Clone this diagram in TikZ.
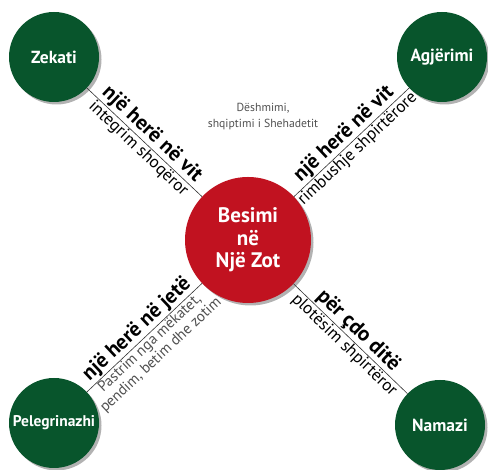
\documentclass[tikz,border=0pt]{standalone}
\usepackage{fontspec}
\setmainfont{PT Sans}
\usetikzlibrary{shadows, positioning}
\definecolor{pillargreen}{RGB}{8,85,44}
\definecolor{faithred}{RGB}{193,18,32}
\definecolor{notegray}{RGB}{80,80,80}
\tikzset{
    pillar/.style={circle, fill=pillargreen, text=white, minimum size=90pt, inner sep=0pt, font=\fontsize{17.5}{19}\selectfont\bfseries,
        drop shadow={shadow xshift=2.5pt, shadow yshift=-2.5pt, fill=black, opacity=0.3}},
    faith/.style={circle, fill=faithred, text=white, minimum size=126pt, inner sep=0pt, align=center, font=\fontsize{21}{22.5}\selectfont\bfseries,
        drop shadow={shadow xshift=2.5pt, shadow yshift=-2.5pt, fill=black, opacity=0.3}},
    link/.style={draw=black!80, line width=0.6pt},
    often/.style={font=\fontsize{21}{23}\selectfont\bfseries, inner sep=1pt},
    gain/.style={font=\fontsize{17}{18}\selectfont, inner sep=1pt},
    soft/.style={font=\fontsize{15}{16}\selectfont, text=notegray, align=center, inner sep=1pt}
}
\begin{document}
\begin{tikzpicture}[x=1pt, y=1pt]
    \useasboundingbox (0,0) rectangle (488,470);
    \node (bes) [faith] at (248,230) {Besimi\\në\\Një Zot};
    \node (zek) [pillar] at (54,413) {Zekati};
    \node (agj) [pillar] at (442,413) {Agjërimi};
    \node (pel) [pillar, font=\fontsize{15.5}{17}\selectfont\bfseries] at (54,47) {Pelegrinazhi};
    \node (nam) [pillar] at (440,45) {Namazi};
    \node (desh) [soft, font=\fontsize{11.7}{16}\selectfont] at (263,353) {Dëshmimi,\\shqiptimi i Shehadetit};

    \draw [link] (zek) -- (bes)
        node [often, midway, above, sloped] {një herë në vit}
        node [gain, midway, below, sloped] {integrim shoqëror};
    \draw [link] (bes) -- (agj)
        node [often, midway, above, sloped] {një herë në vit}
        node [gain, midway, below, sloped] {rimbushje shpirtërore};
    \draw [link] (pel) -- (bes)
        node [often, midway, above, sloped] {një herë në jetë}
        node [soft, midway, below, sloped] {Pastrim nga mëkatet,\\pendim, betim dhe zotim};
    \draw [link] (bes) -- (nam)
        node [often, midway, above, sloped] {për çdo ditë}
        node [gain, midway, below, sloped] {plotësim shpirtëror};
\end{tikzpicture}
\end{document}
